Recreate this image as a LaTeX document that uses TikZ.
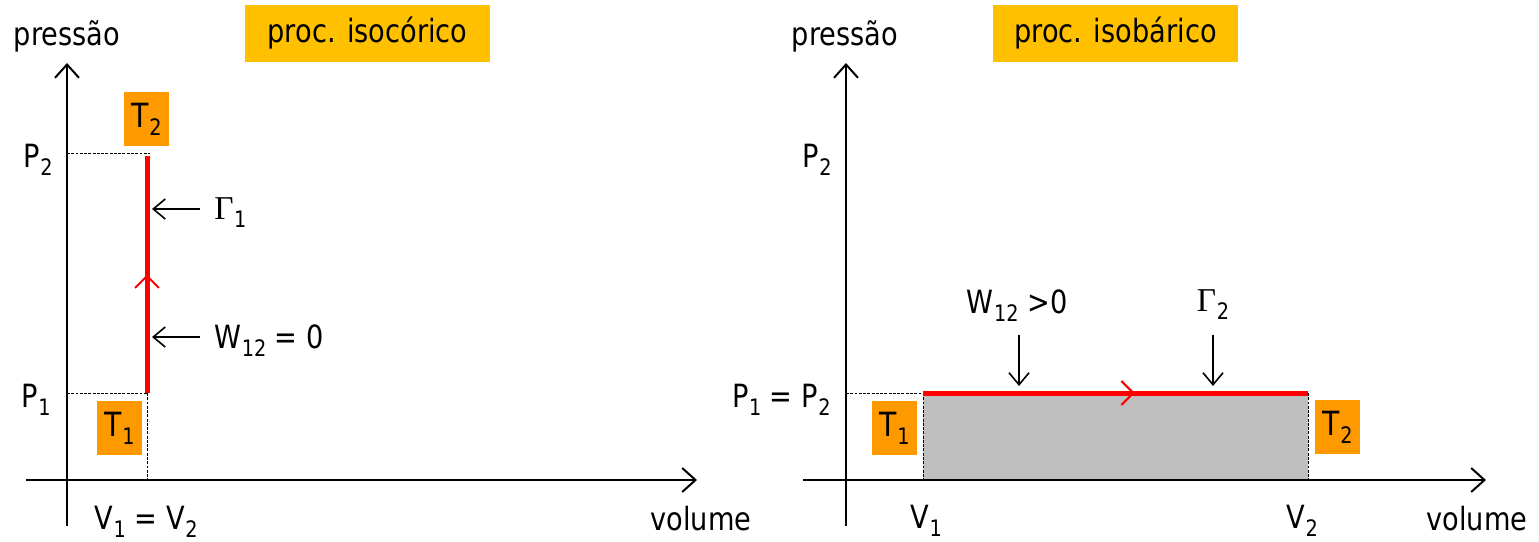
\documentclass[tikz,border=0pt]{standalone}
\usepackage{fontspec}
\setmainfont{DejaVu Sans}[FakeStretch=0.85]
\newfontfamily\gammafont{Liberation Serif}
\usetikzlibrary{arrows.meta,decorations.markings}
\definecolor{titlegold}{HTML}{FFC000}
\definecolor{torange}{HTML}{FF9900}
\definecolor{areagray}{HTML}{BFBFBF}
\definecolor{pathred}{HTML}{FF0000}
\newcommand{\sub}[1]{\kern0.5pt\raisebox{-0.45ex}{\fontsize{17}{20}\selectfont #1}}
\tikzset{
  lbl/.style={inner sep=0pt, font=\fontsize{24}{28}\selectfont},
  titlebox/.style={fill=titlegold, minimum width=183.75pt, minimum height=42.75pt, inner sep=0pt, font=\fontsize{24}{28}\selectfont},
  tbox/.style={fill=torange, minimum width=33.75pt, minimum height=40.5pt, inner sep=0pt, font=\fontsize{25}{28}\selectfont},
  axis/.style={line width=1.5pt, -{Straight Barb[length=10pt,width=18pt,line width=1.5pt]}},
  pointer/.style={line width=1.2pt, -{Straight Barb[length=9pt,width=15pt,line width=1.2pt]}},
  guide/.style={line width=0.7pt, dash pattern=on 2.2pt off 1pt},
  redpath/.style={draw=pathred, line width=3.75pt},
  midchev/.style={postaction={decorate}, decoration={markings, mark=at position #1 with {\arrow[pathred,line width=1.5pt]{Straight Barb[length=9pt,width=18pt]}}}}
}
\begin{document}
\begin{tikzpicture}[x=0.75pt,y=-0.75pt]
\useasboundingbox (0,0) rectangle (1539,542);

% ---------------- left panel ----------------
\coordinate (L0) at (67,480);
\coordinate (Lytop) at (67,63);
\coordinate (Lybot) at (67,526);
\coordinate (Lxl) at (26,480);
\coordinate (Lxr) at (697,480);
\coordinate (LA) at (147,393);
\coordinate (LB) at (147,156);
\coordinate (LP1) at (67,393);
\coordinate (LP2) at (67,153);
\coordinate (LV) at (147,480);
\coordinate (LB2) at (150,153);

\draw[guide] (LP1) -- (LA);
\draw[guide] (LP2) -- (LB2);
\draw[guide] (LA) -- (LV);
\draw[line width=1.5pt] (Lybot) -- (L0);
\draw[axis] (L0) -- (Lytop);
\draw[axis] (Lxl) -- (Lxr);

\draw[redpath, midchev=0.50] (LA) -- (LB);

\node[lbl] (lpres) at (67,36) {pressão};
\node[titlebox] (ltitle) at (367.5,33.5) {proc. isocórico};
\node[tbox] (lT2) at (146.5,119) {T\sub{2}};
\node[tbox] (lT1) at (119.5,428) {T\sub{1}};
\node[lbl] (lP2) at (38,160) {P\sub{2}};
\node[lbl] (lP1) at (36,400) {P\sub{1}};
\node[lbl] (lV) at (146,522) {V\sub{1} = V\sub{2}};
\node[lbl] (lvol) at (701,519) {volume};
\node[lbl, anchor=west] (lgam) at (214,213) {{\gammafont\fontsize{25}{28}\selectfont Γ}\sub{1}};
\node[lbl, anchor=west] (lW) at (214,341) {W\sub{12} = 0};
\coordinate (lgamtip) at (152,209);
\coordinate (lWtip) at (152,337);
\draw[pointer] (lgam.west |- lgamtip) ++(-14,0) -- (lgamtip);
\draw[pointer] (lW.west |- lWtip) ++(-14,0) -- (lWtip);

% ---------------- right panel ----------------
\coordinate (R0) at (846,480);
\coordinate (Rytop) at (846,63);
\coordinate (Rybot) at (846,526);
\coordinate (Rxl) at (803,480);
\coordinate (Rxr) at (1486,480);
\coordinate (RA) at (923,393);
\coordinate (RB) at (1308,393);
\coordinate (RP) at (846,393);
\coordinate (RAb) at (923,480);
\coordinate (RBb) at (1308,480);

\fill[areagray] (RA) rectangle (RBb);
\draw[guide] (RP) -- (RA);
\draw[guide] (RA) -- (RAb);
\draw[guide] (RB) -- (RBb);
\draw[line width=1.5pt] (Rybot) -- (R0);
\draw[axis] (R0) -- (Rytop);
\draw[axis] (Rxl) -- (Rxr);

\draw[redpath, midchev=0.55] (RA) -- (RB);

\node[lbl] (rpres) at (845,36) {pressão};
\node[titlebox] (rtitle) at (1115.5,33.5) {proc. isobárico};
\node[tbox] (rT1) at (894.5,428) {T\sub{1}};
\node[tbox] (rT2) at (1337.5,427) {T\sub{2}};
\node[lbl] (rP2) at (817,160) {P\sub{2}};
\node[lbl, anchor=east] (rP1) at (831,400) {P\sub{1} = P\sub{2}};
\node[lbl] (rV1) at (926,521) {V\sub{1}};
\node[lbl] (rV2) at (1302,521) {V\sub{2}};
\node[lbl] (rvol) at (1477,519) {volume};
\node[lbl] (rW) at (1017,306) {W\sub{12} >0};
\node[lbl] (rgam) at (1213,305) {{\gammafont\fontsize{25}{28}\selectfont Γ}\sub{2}};
\coordinate (rWtip) at (1019,386);
\coordinate (rgamtip) at (1213,386);
\draw[pointer] (rWtip |- 0,335) -- (rWtip);
\draw[pointer] (rgamtip |- 0,335) -- (rgamtip);
\end{tikzpicture}
\end{document}
